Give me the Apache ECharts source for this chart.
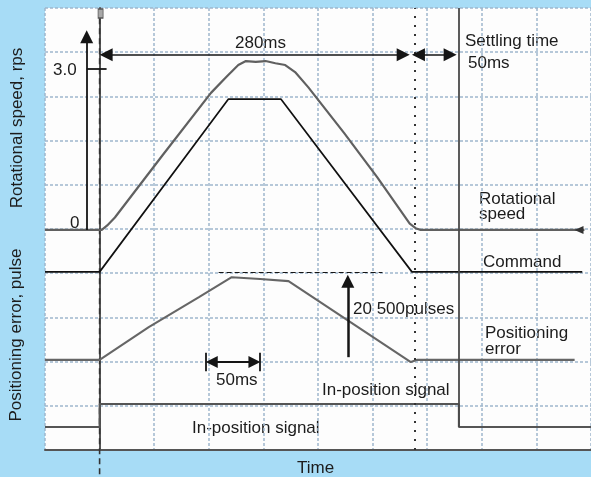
<!DOCTYPE html>
<html><head><meta charset="utf-8">
<script src="https://cdn.jsdelivr.net/npm/echarts@6/dist/echarts.min.js"></script>
<style>html,body{margin:0;padding:0;background:#a7dcf6;} #c{width:591px;height:477px;}</style>
</head><body><div id="c"></div>
<script>
// time in ms, amplitude in screen divisions (0 = bottom of screen, 10 = top)
const speedT = [-50, 2, 7, 14, 58, 102, 116, 127, 134, 143, 152, 161, 170, 179, 191, 224, 254, 284, 290, 294, 444];
const speedV = [4.98, 4.98, 5.08, 5.26, 6.68, 8.08, 8.44, 8.71, 8.80, 8.78, 8.80, 8.75, 8.71, 8.55, 8.21, 7.17, 6.18, 5.12, 5.01, 4.98, 4.98];
const cmdT = [-50, 0, 118, 166, 286, 442];
const cmdV = [4.03, 4.03, 7.94, 7.94, 4.03, 4.03];
const errT = [-50, 0, 45, 91, 121, 147, 173, 285, 291, 435];
const errV = [2.04, 2.04, 2.78, 3.46, 3.91, 3.87, 3.82, 1.99, 2.04, 2.04];
const inPosT = [-50, 0, 0, 329, 329, 450];
const inPosV = [0.52, 0.52, 1.04, 1.04, 0.52, 0.52];
const travelMs = 280, settleMs = 50, errPeakLabel = '20 500pulses', speedTick = '3.0';

const zip = (a, b) => a.map((v, i) => [v, b[i]]);
const FONT = '17px "Liberation Sans", Arial, sans-serif';
const INK = '#1c1c1c';
const gridLine = { show: true, lineStyle: { color: '#9fb6cd', width: 1.5, type: [3, 2] } };
const frame = { show: true, lineStyle: { color: '#555', width: 2 } };

function seg(a, b, style, s0, s1, size) {
  return [
    { coord: a, symbol: s0 || 'none', symbolSize: size || 13 },
    { coord: b, symbol: s1 || 'none', symbolSize: size || 13, lineStyle: style }
  ];
}
const blk = (w, type) => ({ color: '#151515', width: w, type: type || 'solid' });

function txt(s, x, y, opts) {
  return Object.assign({
    type: 'text', x: x, y: y, silent: true,
    style: { text: s, font: FONT, fill: INK, textAlign: 'left', textVerticalAlign: 'middle', align: 'left', verticalAlign: 'middle' }
  }, opts || {});
}
function vtxt(s, x, y) {
  return { type: 'text', x: x, y: y, rotation: Math.PI / 2, silent: true,
    style: { text: s, font: FONT, fill: INK, textAlign: 'center', textVerticalAlign: 'middle', align: 'center', verticalAlign: 'middle' } };
}

const chart = echarts.init(document.getElementById('c'), null, { renderer: 'canvas' });
chart.setOption({
  animation: false,
  backgroundColor: '#a7dcf6',
  grid: { left: 45, top: 8, width: 550, height: 442, show: true, backgroundColor: '#fdfdfd', borderWidth: 0 },
  xAxis: { type: 'value', min: -50, max: 450, interval: 50, position: 'top',
    axisLine: frame, axisTick: { show: false }, axisLabel: { show: false }, splitLine: gridLine },
  yAxis: { type: 'value', min: 0, max: 10, interval: 1,
    axisLine: frame, axisTick: { show: false }, axisLabel: { show: false }, splitLine: gridLine },
  series: [
    { name: 'Annotations', type: 'line', data: [], silent: true,
      markLine: { silent: true, animation: false, symbol: ['none', 'none'], label: { show: false },
        emphasis: { disabled: true },
        lineStyle: { color: '#151515', width: 1.5, type: 'solid' },
        data: [
          seg([289, 0], [289, 10], { color: '#333', width: 2, type: [2, 7] }),
          seg([329, 0.52], [329, 10], { color: '#4a4a4a', width: 1.8 }),
          seg([6, 8.94], [travelMs - 2, 8.94], blk(1.6), 'triangle', 'triangle', 13),
          seg([292, 8.94], [321, 8.94], blk(1.6), 'triangle', 'triangle', 13),
          seg([109, 4.03], [259, 4.03], blk(1.1, [5, 3])),
          seg([227.3, 2.10], [227.3, 3.82], blk(2.5), 'none', 'triangle', 13),
          seg([-11.8, 4.98], [-11.8, 9.35], blk(1.8), 'none', 'triangle', 13),
          seg([-11.8, 8.62], [6.4, 8.62], blk(1.8)),
          seg([102.7, 1.99], [141.8, 1.99], blk(2.2), 'triangle', 'triangle', 12),
          seg([97.3, 2.2], [97.3, 1.78], blk(1.8)),
          seg([146.8, 2.2], [146.8, 1.78], blk(1.8))
        ] } },
    { name: 'Zero', type: 'line', data: [[0, 9.77], [0, -0.61]], clip: false, symbol: 'none', silent: true,
      lineStyle: { color: '#333', width: 1.6, type: [6, 4] },
      markPoint: { silent: true, symbol: 'rect', symbolSize: [5, 9], label: { show: false },
        itemStyle: { color: '#a8a8a8', borderColor: '#555', borderWidth: 1 },
        data: [{ coord: [0.9, 9.875] }] } },
    { name: 'Command', type: 'line', data: zip(cmdT, cmdV), symbol: 'none', silent: true,
      lineStyle: { color: '#111', width: 1.7 } },
    { name: 'Rotational speed', type: 'line', data: zip(speedT, speedV), symbol: 'none', silent: true,
      lineStyle: { color: '#606060', width: 2.2 },
      markPoint: { silent: true, symbol: 'triangle', symbolRotate: 90, symbolSize: [8, 9], label: { show: false },
        itemStyle: { color: '#333' }, data: [{ coord: [439, 4.98] }] } },
    { name: 'Positioning error', type: 'line', data: zip(errT, errV), symbol: 'none', silent: true,
      lineStyle: { color: '#666', width: 2.1 } },
    { name: 'In-position signal', type: 'line', data: zip(inPosT, inPosV), symbol: 'none', silent: true,
      lineStyle: { color: '#555', width: 2 } }
  ],
  graphic: [
    txt(travelMs + 'ms', 235, 43),
    txt('Settling time', 465, 41),
    txt(settleMs + 'ms', 468, 63),
    txt(speedTick, 53, 70),
    txt('0', 70, 223),
    txt('Rotational', 479, 199),
    txt('speed', 479, 214),
    txt('Command', 483, 262),
    txt('Positioning', 485, 333),
    txt('error', 485, 349),
    txt(errPeakLabel, 353, 309),
    txt(settleMs + 'ms', 216, 380),
    txt('In-position signal', 322, 390),
    txt('In-position signal', 192, 428),
    txt('Time', 297, 468),
    vtxt('Rotational speed, rps', 17, 128),
    vtxt('Positioning error, pulse', 16, 335)
  ]
});
</script></body></html>
